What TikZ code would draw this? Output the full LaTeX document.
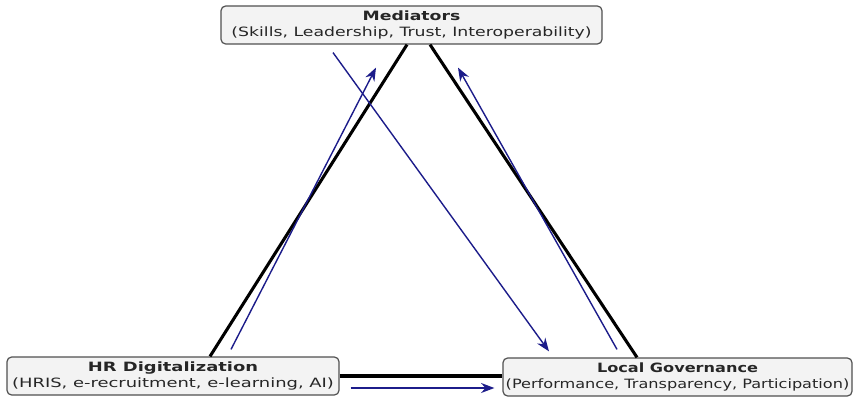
\documentclass[tikz,border=0pt]{standalone}
\usepackage{fontspec}
\setmainfont{DejaVu Sans}[FakeStretch=1.35]
\newfontfamily\wideface{DejaVu Sans}[FakeStretch=1.4]
\newfontfamily\narrowface{DejaVu Sans}[FakeStretch=1.26]
\usetikzlibrary{calc,arrows.meta}
\definecolor{boxfill}{HTML}{F3F3F3}
\definecolor{boxline}{HTML}{505050}
\definecolor{flow}{HTML}{1C1C8A}
\begin{document}
\begin{tikzpicture}[x=0.75pt,y=-0.75pt,
  box/.style={draw=boxline, line width=0.9pt, fill=boxfill, rounded corners=3.5pt,
    align=center, font=\fontsize{9.6}{12.5}\selectfont, text=black!85,
    inner sep=0pt, minimum height=28.5pt},
  link/.style={black, line width=2.3pt},
  flowarrow/.style={flow, line width=1.05pt, -{Stealth[length=10pt,width=7.5pt]}}]
\useasboundingbox (0,0) rectangle (855,399);

% the three concept boxes
\node[box, minimum width=285.75pt] (med) at (411.5,25)
  {\textbf{Mediators}\\(Skills, Leadership, Trust, Interoperability)};
\node[box, minimum width=249pt, font=\wideface\fontsize{9.6}{12.5}\selectfont] (hr) at (173,376)
  {\textbf{HR Digitalization}\\(HRIS, e-recruitment, e-learning, AI)};
\node[box, minimum width=261.75pt, font=\narrowface\fontsize{9.6}{12.5}\selectfont] (lg) at (677.5,377)
  {\textbf{Local Governance}\\(Performance, Transparency, Participation)};

% triangle sides
\draw[link] ($(hr.north)+(37,0)$) -- ($(med.south)+(-4.5,0)$);
\draw[link] ($(med.south)+(18.5,0)$) -- ($(lg.north)+(-40.5,0)$);
\draw[link] (hr.east) -- (hr.east -| lg.west);

% directed effects
\draw[flowarrow] ($(hr.north)+(58,-7)$) -- ($(med.south)+(-35.5,23)$);
\draw[flowarrow] ($(lg.north)+(-60.5,-8)$) -- ($(med.south)+(46.5,23)$);
\draw[flowarrow] ($(hr.east)+(11,12)$) -- ($(lg.west)+(-8,11)$);
\draw[flowarrow] ($(med.south)+(-78.5,8)$) -- ($(lg.north)+(-128.5,-6)$);
\end{tikzpicture}
\end{document}
